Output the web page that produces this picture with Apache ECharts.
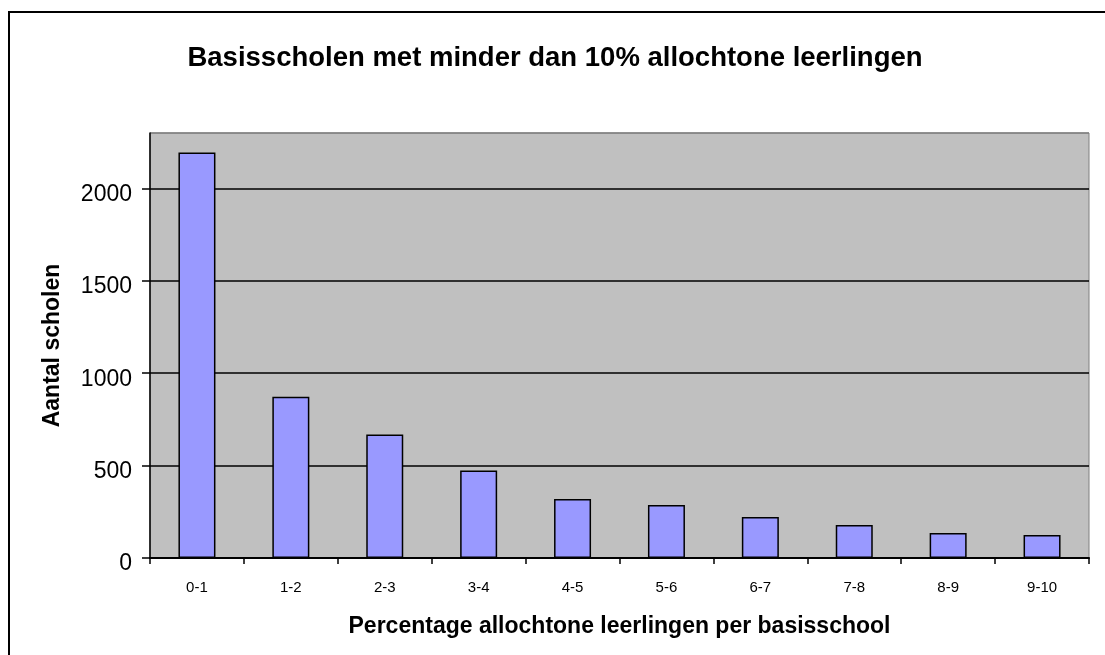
<!DOCTYPE html>
<html>
<head>
<meta charset="utf-8">
<script src="https://cdn.jsdelivr.net/npm/echarts@6/dist/echarts.min.js"></script>
<style>html,body{margin:0;padding:0;background:#fff;}#c{width:1105px;height:655px;}</style>
</head>
<body>
<div id="c"></div>
<script>
const titleText = 'Basisscholen met minder dan 10% allochtone leerlingen';
const xAxisName = 'Percentage allochtone leerlingen per basisschool';
const yAxisName = 'Aantal scholen';
const categories = ['0-1','1-2','2-3','3-4','4-5','5-6','6-7','7-8','8-9','9-10'];
const schools = [2195, 872, 668, 473, 319, 287, 222, 179, 135, 125];
const yTicks = [0, 500, 1000, 1500, 2000];

const FONT = '"Liberation Sans", Arial, sans-serif';
const chart = echarts.init(document.getElementById('c'), null, {renderer: 'canvas'});
chart.setOption({
  backgroundColor: '#ffffff',
  animation: false,
  title: {
    text: titleText,
    left: 555, textAlign: 'center',
    top: 44, padding: 0,
    textStyle: {fontFamily: FONT, fontSize: 27.5, fontWeight: 'bold', color: '#000'}
  },
  graphic: [{
    type: 'rect', silent: true, z: -1,
    shape: {x: 9, y: 12, width: 1200, height: 800},
    style: {fill: 'none', stroke: '#000', lineWidth: 2}
  }],
  grid: {
    left: 150, top: 133, width: 939, height: 425,
    show: true, backgroundColor: '#c0c0c0', borderColor: '#808080', borderWidth: 1
  },
  xAxis: {
    type: 'category',
    data: categories,
    name: xAxisName,
    nameLocation: 'middle',
    nameGap: 57,
    nameTextStyle: {fontFamily: FONT, fontSize: 23, fontWeight: 'bold', color: '#000'},
    axisLine: {show: true, lineStyle: {color: '#000', width: 2}},
    axisTick: {show: true, alignWithLabel: false, length: 6, lineStyle: {color: '#000', width: 1.5}},
    axisLabel: {fontFamily: FONT, fontSize: 15, color: '#000', margin: 22}
  },
  yAxis: {
    type: 'value',
    min: 0, max: 2300, interval: 500,
    name: yAxisName,
    nameLocation: 'middle',
    nameGap: 86,
    nameTextStyle: {fontFamily: FONT, fontSize: 23, fontWeight: 'bold', color: '#000'},
    axisLine: {show: true, lineStyle: {color: '#000', width: 1.5}},
    axisTick: {show: true, inside: false, length: 8, lineStyle: {color: '#000', width: 1.5}},
    axisLabel: {
      fontFamily: FONT, fontSize: 23, color: '#000', margin: 18,
      verticalAlign: 'top', lineHeight: 12,
      showMaxLabel: false,
      formatter: function (v) { return yTicks.indexOf(v) >= 0 ? String(v) : ''; }
    },
    splitLine: {show: true, lineStyle: {color: ['#000','#000','#000','#000','#000','#808080'], width: 1.5}}
  },
  series: [{
    type: 'bar',
    data: schools,
    barWidth: 37,
    itemStyle: {color: '#9999ff', borderColor: '#000', borderWidth: 1.5}
  }]
});
</script>
</body>
</html>
